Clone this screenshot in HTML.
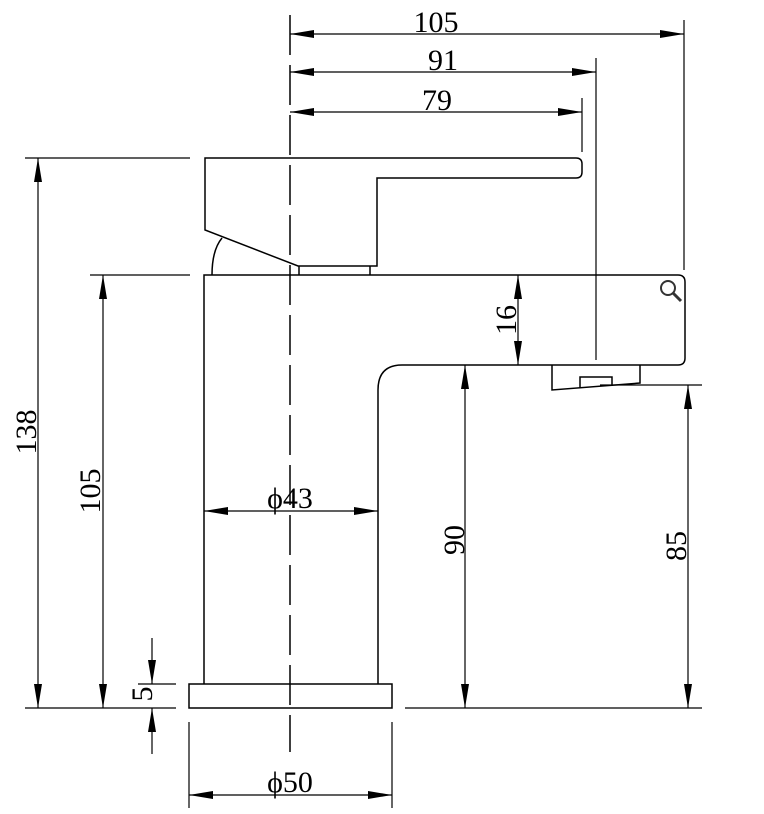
<!DOCTYPE html>
<html><head><meta charset="utf-8"><style>html,body{margin:0;padding:0;background:#fff}svg{display:block}</style></head>
<body>
<svg width="764" height="814" viewBox="0 0 764 814" xmlns="http://www.w3.org/2000/svg">
<defs>
<marker id="a" viewBox="0 0 24 8" refX="24" refY="4" markerWidth="24" markerHeight="8" markerUnits="userSpaceOnUse" orient="auto-start-reverse"><path d="M0,0 L24,4 L0,8 z" fill="#000"/></marker>
</defs>
<g fill="none" stroke="#000" stroke-width="1.5">
<line x1="290" y1="15" x2="290" y2="752" stroke-dasharray="40,10"/>
<path d="M205,158 L576,158 Q582,158 582,164 L582,172 Q582,178 576,178 L377,178 L377,266 L298,266 L205,230 Z"/>
<path d="M212,275 Q212,250 222,238"/>
<path d="M299,266 L299,275 M370,266 L370,275"/>
<path d="M204,684 L204,275 L678,275 Q685,275 685,282 L685,358 Q685,365 678,365 L402,365 Q378,365 378,390 L378,684"/>
<path d="M552,365 L552,390 L640,383 L640,365"/>
<path d="M580,388 L580,377 L612,377 L612,386"/>
<rect x="189" y="684" width="203" height="24"/>
</g>
<g fill="none" stroke="#000" stroke-width="1.2">
<line x1="684" y1="20" x2="684" y2="270"/>
<line x1="596" y1="58" x2="596" y2="360"/>
<line x1="582" y1="98" x2="582" y2="152"/>
<line x1="25" y1="158" x2="190" y2="158"/>
<line x1="90" y1="275" x2="190" y2="275"/>
<line x1="25" y1="708" x2="176" y2="708"/>
<line x1="405" y1="708" x2="702" y2="708"/>
<line x1="138" y1="684" x2="176" y2="684"/>
<line x1="600" y1="385" x2="702" y2="385"/>
<line x1="189" y1="722" x2="189" y2="808"/>
<line x1="392" y1="722" x2="392" y2="808"/>
<line x1="290" y1="34" x2="684" y2="34" marker-start="url(#a)" marker-end="url(#a)"/>
<line x1="290" y1="72" x2="596" y2="72" marker-start="url(#a)" marker-end="url(#a)"/>
<line x1="290" y1="112" x2="582" y2="112" marker-start="url(#a)" marker-end="url(#a)"/>
<line x1="38" y1="158" x2="38" y2="708" marker-start="url(#a)" marker-end="url(#a)"/>
<line x1="103" y1="275" x2="103" y2="708" marker-start="url(#a)" marker-end="url(#a)"/>
<line x1="152" y1="638" x2="152" y2="684" marker-end="url(#a)"/>
<line x1="152" y1="754" x2="152" y2="708" marker-end="url(#a)"/>
<line x1="204" y1="511" x2="378" y2="511" marker-start="url(#a)" marker-end="url(#a)"/>
<line x1="518" y1="275" x2="518" y2="365" marker-start="url(#a)" marker-end="url(#a)"/>
<line x1="465" y1="365" x2="465" y2="708" marker-start="url(#a)" marker-end="url(#a)"/>
<line x1="688" y1="385" x2="688" y2="708" marker-start="url(#a)" marker-end="url(#a)"/>
<line x1="189" y1="795" x2="392" y2="795" marker-start="url(#a)" marker-end="url(#a)"/>
</g>
<circle cx="668" cy="288" r="7" fill="none" stroke="#333" stroke-width="2"/>
<line x1="673" y1="293" x2="681" y2="301" stroke="#333" stroke-width="3"/>
<g font-family="Liberation Serif, serif" font-size="30" fill="#000" text-anchor="middle">
<text x="436" y="32">105</text>
<text x="443" y="70">91</text>
<text x="437" y="110">79</text>
<text x="290" y="508">ϕ43</text>
<text x="290" y="792">ϕ50</text>
<text transform="translate(36,432) rotate(-90)">138</text>
<text transform="translate(100,491) rotate(-90)">105</text>
<text transform="translate(516,320) rotate(-90)">16</text>
<text transform="translate(464,540) rotate(-90)">90</text>
<text transform="translate(686,546) rotate(-90)">85</text>
<text transform="translate(152,694) rotate(-90)">5</text>
</g>
</svg>
</body></html>
